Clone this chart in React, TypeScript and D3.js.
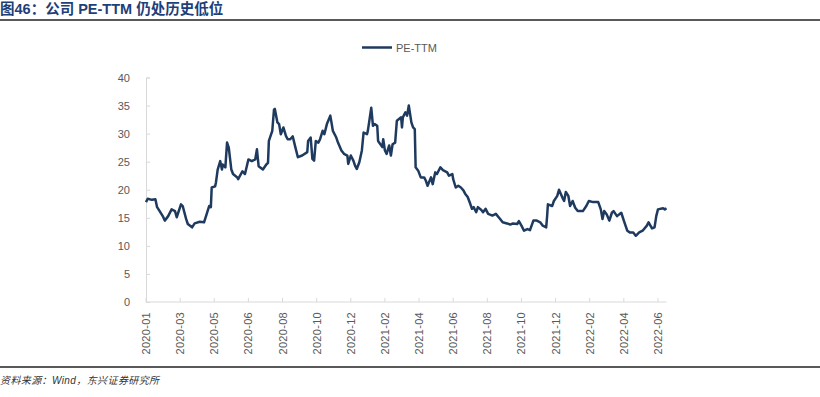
import * as d3 from 'd3';
import React, { useEffect, useRef } from 'react';

// x-axis category labels, one every 40 trading days
const tickLabels = [
  '2020-01', '2020-03', '2020-05', '2020-06', '2020-08', '2020-10', '2020-12', '2021-02',
  '2021-04', '2021-06', '2021-08', '2021-10', '2021-12', '2022-02', '2022-04', '2022-06',
];
const labelStep = 40;
const lastDay = 610;

const yTicks = [0, 5, 10, 15, 20, 25, 30, 35, 40];

// [trading day index, PE-TTM]
const peTTM: [number, number][] = [
  [0, 17.8], [2, 18.4], [7, 18.2], [11, 18.3], [13, 16.9], [16, 16.2], [20, 15.2], [22, 14.5],
  [26, 15.3], [30, 16.5], [34, 16.2], [36, 15.1], [41, 17.4], [43, 17.1], [47, 14.8], [49, 13.9],
  [54, 13.3], [57, 14.0], [63, 14.3], [68, 14.2], [71, 15.6], [74, 17.1], [76, 16.9], [77, 20.4],
  [81, 20.6], [82, 21.3], [84, 23.6], [87, 25.1], [89, 23.6], [90, 24.5], [93, 24.0], [95, 28.4],
  [97, 27.5], [100, 23.6], [102, 22.8], [107, 22.2], [108, 21.9], [113, 23.3], [116, 22.8], [120, 25.4],
  [124, 25.1], [128, 25.4], [130, 27.2], [132, 24.2], [137, 23.6], [141, 24.5], [143, 24.8], [144, 28.7],
  [148, 30.5], [150, 34.3], [151, 34.4], [154, 32.0], [156, 31.7], [158, 29.9], [161, 31.1], [164, 29.6],
  [166, 29.0], [169, 29.0], [172, 29.5], [175, 27.6], [178, 25.8], [183, 26.1], [189, 26.7], [190, 28.7],
  [193, 29.3], [195, 25.5], [197, 25.2], [199, 28.7], [202, 28.4], [204, 29.0], [207, 30.5], [209, 29.9],
  [212, 31.7], [216, 33.2], [219, 30.5], [223, 29.3], [225, 28.4], [229, 27.0], [232, 26.4], [236, 26.1],
  [237, 24.6], [240, 26.1], [243, 25.2], [245, 24.3], [247, 23.7], [250, 24.9], [253, 27.0], [255, 30.2],
  [259, 29.9], [260, 30.5], [264, 34.6], [266, 31.4], [268, 31.7], [271, 31.4], [272, 28.7], [277, 27.6],
  [278, 29.0], [280, 27.0], [282, 26.4], [285, 27.9], [287, 26.1], [289, 28.1], [292, 28.4], [294, 32.3],
  [299, 32.9], [300, 31.1], [301, 32.9], [304, 33.8], [306, 33.2], [308, 35.0], [311, 32.0], [313, 31.1],
  [315, 30.8], [316, 24.0], [319, 23.4], [322, 22.2], [326, 22.2], [328, 21.6], [330, 20.7], [334, 22.2],
  [336, 21.0], [339, 23.1], [341, 22.8], [345, 24.0], [348, 23.5], [353, 23.1], [355, 22.5], [359, 22.8],
  [360, 21.9], [363, 20.4], [366, 20.7], [369, 20.4], [372, 19.9], [374, 19.3], [377, 18.7], [380, 17.5],
  [382, 16.6], [384, 16.9], [387, 16.0], [389, 16.9], [393, 16.4], [395, 16.0], [398, 16.6], [401, 15.7],
  [406, 15.4], [410, 15.7], [415, 14.8], [418, 14.2], [423, 14.0], [427, 13.8], [430, 14.0], [435, 13.9],
  [437, 14.4], [440, 13.6], [443, 12.7], [447, 13.0], [450, 12.8], [454, 14.5], [458, 14.5], [462, 14.2],
  [465, 13.6], [469, 13.3], [470, 15.1], [471, 17.4], [476, 17.1], [478, 18.0], [482, 18.9], [484, 20.0],
  [488, 18.6], [490, 18.0], [492, 19.6], [495, 18.9], [497, 17.1], [500, 18.0], [503, 16.8], [506, 16.2],
  [512, 16.2], [516, 17.1], [519, 18.0], [524, 17.8], [530, 17.8], [533, 16.5], [535, 14.8], [537, 16.2],
  [540, 15.6], [543, 14.5], [546, 15.9], [548, 16.2], [552, 15.3], [557, 15.9], [560, 14.5], [564, 12.7],
  [567, 12.4], [571, 12.4], [574, 11.8], [578, 12.4], [582, 12.7], [587, 13.6], [589, 14.2], [593, 13.1],
  [596, 13.3], [598, 15.3], [600, 16.5], [606, 16.7], [608, 16.5], [610, 16.7],
];

const W = 820;
const H = 397;
const lineColor = '#1f3a5f';
const textColor = '#595959';
const latin = '"Liberation Sans", Arial, "Noto Sans CJK SC", sans-serif';

const App = () => {
  const ref = useRef<SVGSVGElement>(null);

  useEffect(() => {
    const svg = d3.select(ref.current);
    svg.selectAll('*').remove();

    // title
    svg.append('text')
      .attr('x', 0).attr('y', 14)
      .style('font-family', latin)
      .style('font-size', '14.5px').style('font-weight', 'bold')
      .attr('fill', '#1f3f78')
      .text('图46：公司 PE-TTM 仍处历史低位');
    svg.append('line')
      .attr('x1', 0).attr('x2', W).attr('y1', 20).attr('y2', 20)
      .attr('stroke', '#222').attr('stroke-width', 1.5);

    const x = d3.scaleLinear().domain([0, lastDay]).range([146, 666.5]);
    const y = d3.scaleLinear().domain([0, 40]).range([302, 77.5]);

    // y axis
    const yAxis = svg.append('g')
      .attr('transform', `translate(${x(0)},0)`)
      .call(d3.axisLeft(y).tickValues(yTicks).tickSize(-4).tickPadding(16));
    yAxis.select('.domain').attr('stroke', '#d9d9d9');
    yAxis.selectAll('.tick line').attr('stroke', '#d9d9d9');
    yAxis.selectAll('.tick text')
      .attr('fill', textColor)
      .style('font-family', latin).style('font-size', '11px');

    // x axis
    const xg = svg.append('g');
    xg.append('line')
      .attr('x1', x(0)).attr('x2', x(lastDay))
      .attr('y1', y(0)).attr('y2', y(0))
      .attr('stroke', '#d9d9d9');
    tickLabels.forEach((lab, i) => {
      const px = x(i * labelStep);
      xg.append('line')
        .attr('x1', px).attr('x2', px)
        .attr('y1', y(0)).attr('y2', y(0) - 4)
        .attr('stroke', '#d9d9d9');
      xg.append('text')
        .attr('transform', `translate(${px + 4},312) rotate(-90)`)
        .attr('text-anchor', 'end')
        .attr('fill', textColor)
        .style('font-family', latin).style('font-size', '11px')
        .style('letter-spacing', '0.3px')
        .text(lab);
    });

    // series
    const line = d3.line<[number, number]>()
      .x(d => x(d[0]))
      .y(d => y(d[1]));
    svg.append('path')
      .datum(peTTM)
      .attr('d', line)
      .attr('fill', 'none')
      .attr('stroke', lineColor)
      .attr('stroke-width', 2.5)
      .attr('stroke-linejoin', 'round');

    // legend
    svg.append('line')
      .attr('x1', 362).attr('x2', 392).attr('y1', 47.5).attr('y2', 47.5)
      .attr('stroke', lineColor).attr('stroke-width', 2.5);
    svg.append('text')
      .attr('x', 396).attr('y', 51.5)
      .attr('fill', textColor)
      .style('font-family', latin).style('font-size', '11px')
      .text('PE-TTM');

    // source
    svg.append('line')
      .attr('x1', 0).attr('x2', W).attr('y1', 367).attr('y2', 367)
      .attr('stroke', '#222').attr('stroke-width', 1.5);
    svg.append('text')
      .attr('x', 0).attr('y', 384)
      .attr('fill', '#333')
      .style('font-family', latin)
      .style('font-size', '10px').style('font-style', 'italic')
      .style('letter-spacing', '0.4px')
      .text('资料来源：Wind，东兴证券研究所');
  }, []);

  return (
    <svg ref={ref} width={W} height={H}
      style={{ position: 'absolute', left: 0, top: 0, background: '#fff' }} />
  );
};

export default App;
